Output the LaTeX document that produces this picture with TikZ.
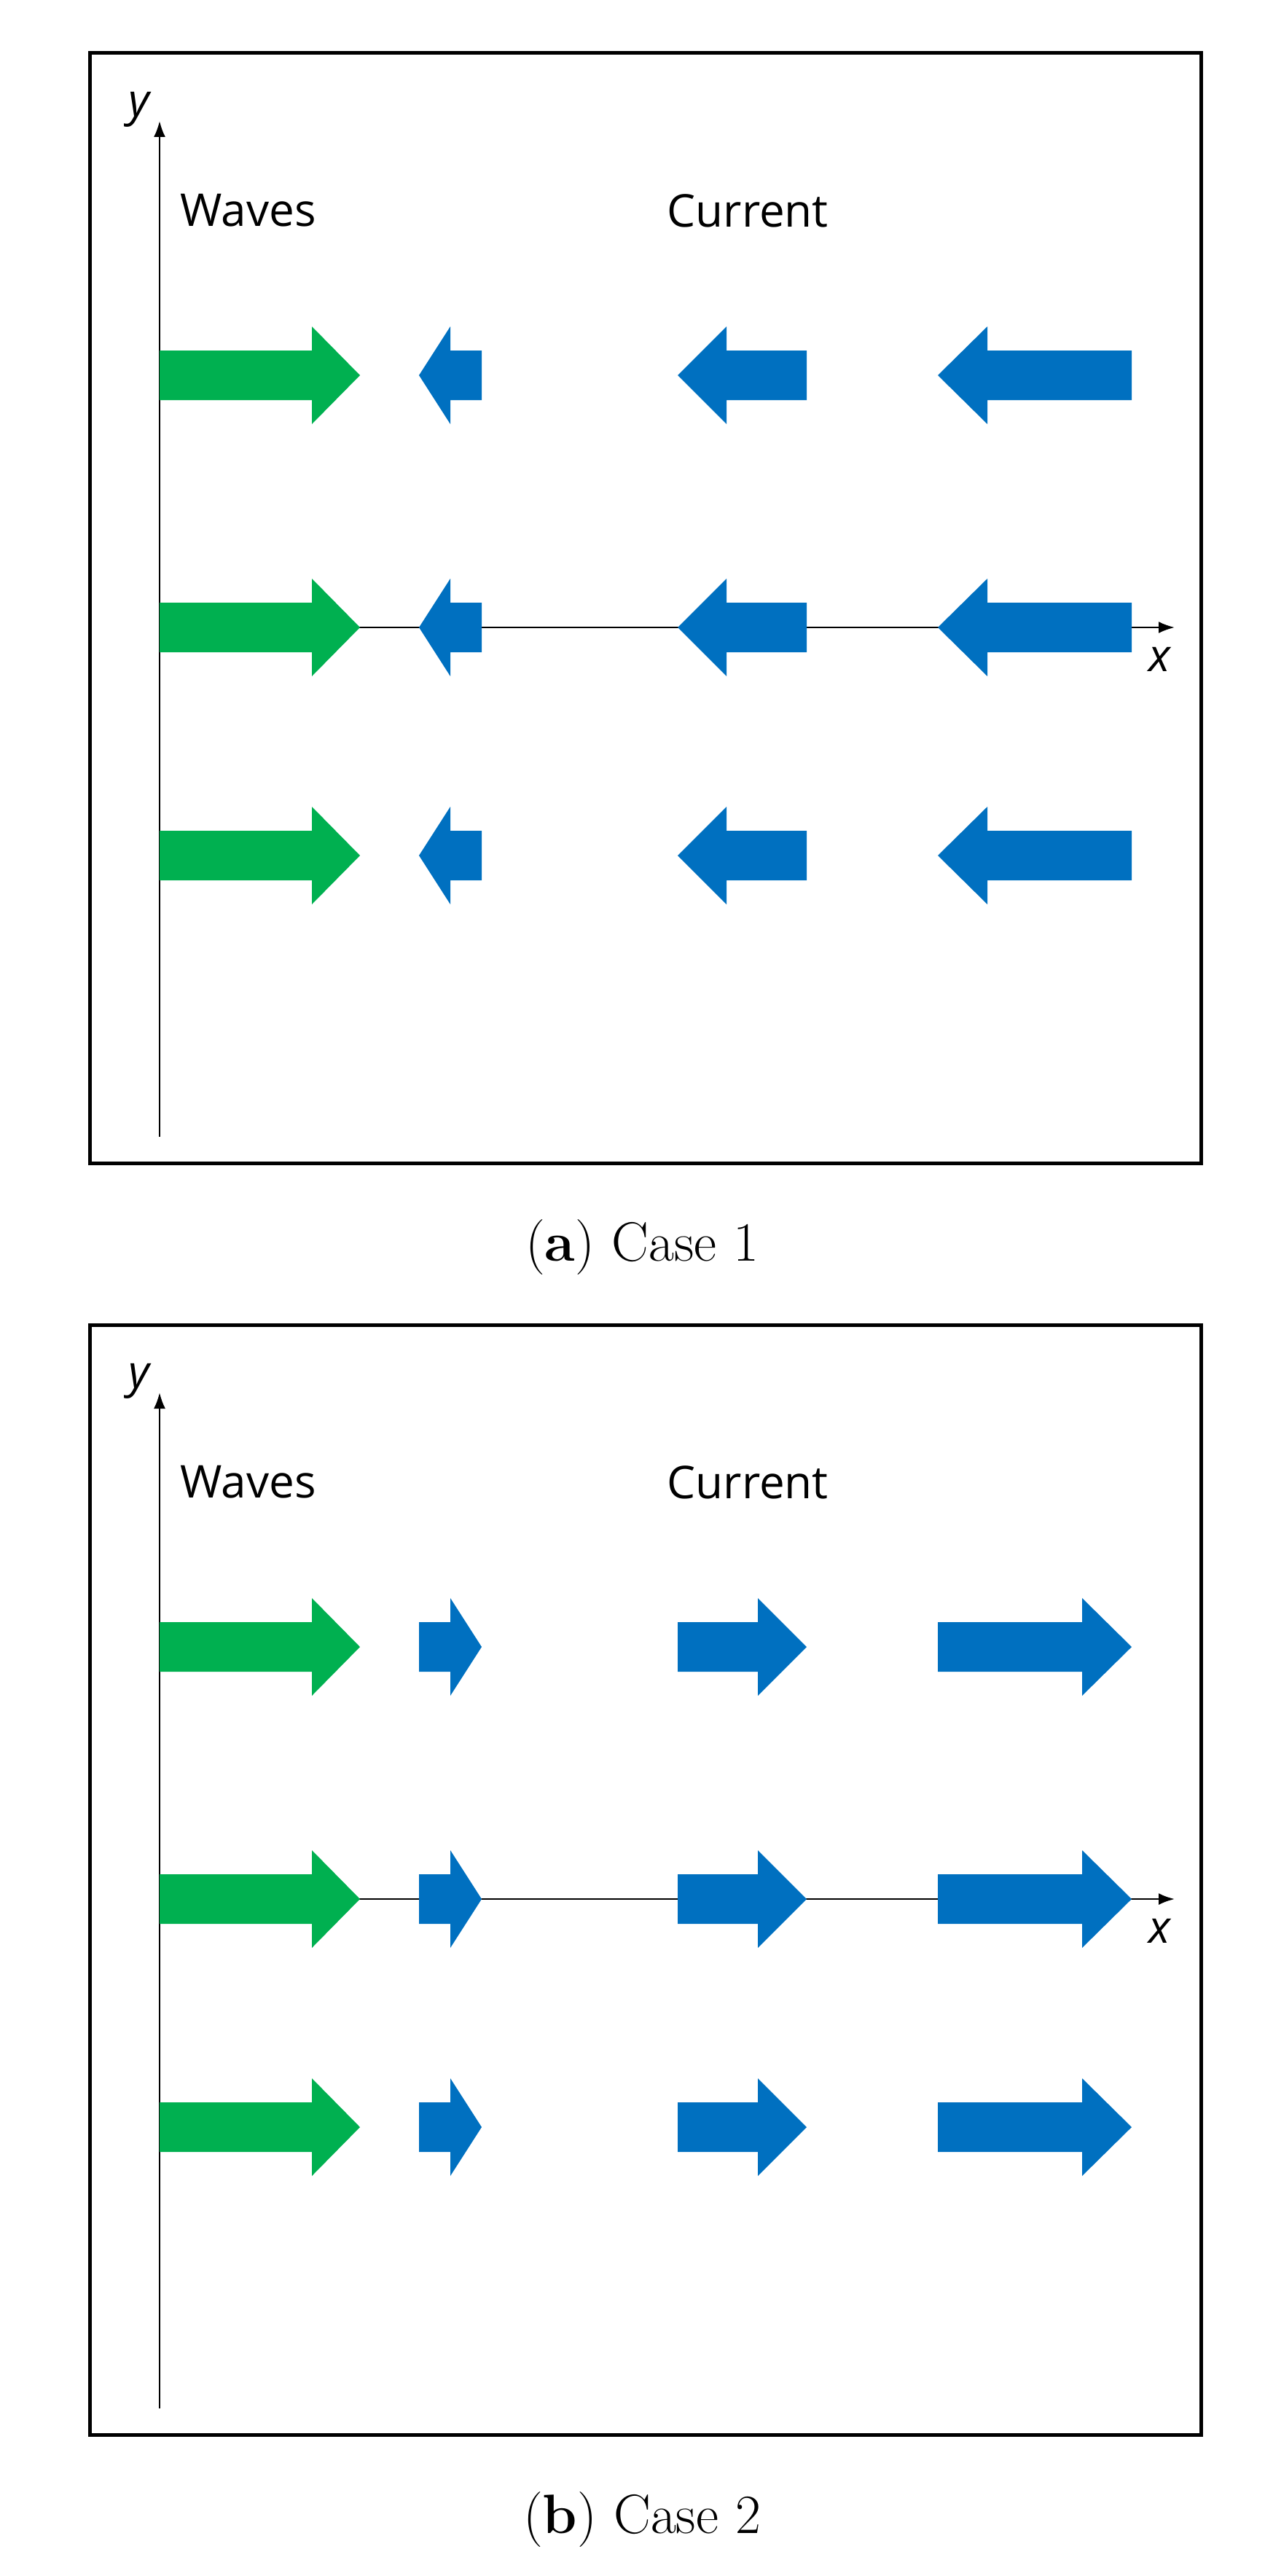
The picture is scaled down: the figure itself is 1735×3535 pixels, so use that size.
\documentclass[tikz,border=0pt]{standalone}
\usetikzlibrary{arrows.meta}
\usepackage{fontspec}
\newfontfamily\sans{Open Sans}
\definecolor{wgreen}{RGB}{0,176,80}
\definecolor{cblue}{RGB}{0,112,192}
\newcommand\myarrow[5]{% tail, headback, tip, y, color
  \fill[#5] (#1,#4-34) -- (#2,#4-34) -- (#2,#4-67) -- (#3,#4) -- (#2,#4+67) -- (#2,#4+34) -- (#1,#4+34) -- cycle;}
\begin{document}
\begin{tikzpicture}[x=1pt,y=-1pt,
  frame/.style={line width=5pt},
  axis/.style={line width=2.5pt,-{Latex[length=22pt,width=16pt]}},
  lab/.style={font=\sans\fontsize{62}{70}\selectfont,anchor=west},
  axlab/.style={font=\sans\itshape\fontsize{62}{70}\selectfont},
  captext/.style={font=\fontsize{76}{90}\selectfont}]
\useasboundingbox (0,0) rectangle (1735,3535);
\foreach \off/\dir/\capt in {0/-1/{(\textbf{a}) Case 1},1745/1/{(\textbf{b}) Case 2}}{
  \begin{scope}[yshift=-\off pt]
  \draw[frame] (123,73) rectangle (1648,1596);
  \coordinate (o) at (219,861);
  \coordinate (yb) at (219,1560);
  \coordinate (yt) at (219,166);
  \coordinate (xt) at (1612,861);
  \draw[axis] (o) -- (xt);
  \draw[axis] (yb) -- (yt);
  \node[axlab] (ylab) at (191,150) {y};
  \node[axlab] (xlab) at (1591,905) {x};
  \node[lab] (waves) at (244,289) {Waves};
  \node[lab] (current) at (912,289) {Current};
  \foreach \y in {515,861,1174}{
    \myarrow{219}{428}{494}{\y}{wgreen}
    \ifnum\dir<0
      \myarrow{661}{618}{575}{\y}{cblue}
      \myarrow{1107}{997}{930}{\y}{cblue}
      \myarrow{1553}{1355}{1287}{\y}{cblue}
    \else
      \myarrow{575}{618}{661}{\y}{cblue}
      \myarrow{930}{1040}{1107}{\y}{cblue}
      \myarrow{1287}{1485}{1553}{\y}{cblue}
    \fi
  }
  \node[captext] (caption) at (881,1712) {\capt};
  \end{scope}
}
\end{tikzpicture}
\end{document}
